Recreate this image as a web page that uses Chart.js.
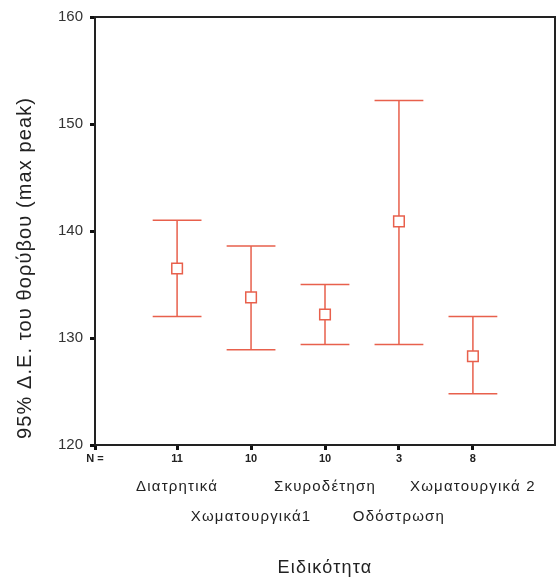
<!DOCTYPE html>
<html>
<head>
<meta charset="utf-8">
<script src="https://cdn.jsdelivr.net/npm/chart.js@4.4.1/dist/chart.umd.min.js"></script>
<style>
html,body{margin:0;padding:0;background:#fff;}
#wrap{width:556px;height:582px;position:relative;}
</style>
</head>
<body>
<div id="wrap"><canvas id="c" width="556" height="582"></canvas></div>
<script>
const categories = ['Διατρητικά', 'Χωματουργικά1', 'Σκυροδέτηση', 'Οδόστρωση', 'Χωματουργικά 2'];
const counts = [11, 10, 10, 3, 8];
const means = [136.5, 133.8, 132.2, 140.9, 128.3];
const lower = [132.0, 128.9, 129.4, 129.4, 124.8];
const upper = [141.0, 138.6, 135.0, 152.2, 132.0];
const yTicks = [120, 130, 140, 150, 160];

const FONT = "'Liberation Sans', Arial, sans-serif";
const RED = '#e8604c';
const XMIN = -1.11, XMAX = 5.11;

const errorBars = {
  id: 'errorBars',
  beforeDatasetsDraw(chart) {
    const ctx = chart.ctx, xs = chart.scales.x, ys = chart.scales.y;
    ctx.save();
    ctx.strokeStyle = RED;
    ctx.lineWidth = 1.5;
    for (let i = 0; i < categories.length; i++) {
      const x = xs.getPixelForValue(i);
      const yl = ys.getPixelForValue(lower[i]);
      const yh = ys.getPixelForValue(upper[i]);
      const half = (xs.getPixelForValue(1) - xs.getPixelForValue(0)) * 0.33;
      ctx.beginPath();
      ctx.moveTo(x, yl); ctx.lineTo(x, yh);
      ctx.moveTo(x - half, yl); ctx.lineTo(x + half, yl);
      ctx.moveTo(x - half, yh); ctx.lineTo(x + half, yh);
      ctx.stroke();
    }
    ctx.restore();
  },
  afterDatasetsDraw(chart) {
    // x2 (category names + title) is drawn after datasets (z: 1); give it wider letter spacing
    chart.ctx.letterSpacing = '1.2px';
  },
  afterDraw(chart) {
    const ctx = chart.ctx, a = chart.chartArea;
    ctx.letterSpacing = '0px';
    ctx.save();
    ctx.strokeStyle = '#222';
    ctx.lineWidth = 2;
    ctx.beginPath();
    ctx.moveTo(a.left, a.top); ctx.lineTo(a.right, a.top); ctx.lineTo(a.right, a.bottom);
    ctx.stroke();
    // y axis title
    ctx.translate(25, 268);
    ctx.rotate(-Math.PI / 2);
    ctx.fillStyle = '#222';
    ctx.font = '20px ' + FONT;
    ctx.letterSpacing = '1.1px';
    ctx.textAlign = 'center';
    ctx.textBaseline = 'middle';
    ctx.fillText('95% Δ.Ε. του θορύβου (max peak)', 0, 0);
    ctx.restore();
    ctx.letterSpacing = '0px';
  }
};

new Chart(document.getElementById('c'), {
  type: 'scatter',
  data: {
    datasets: [{
      data: means.map((m, i) => ({x: i, y: m})),
      pointStyle: 'rect',
      pointRadius: 7.5,
      pointHoverRadius: 7.5,
      borderColor: RED,
      borderWidth: 1.5,
      backgroundColor: '#fff',
      showLine: false
    }]
  },
  options: {
    responsive: false,
    animation: false,
    events: [],
    layout: {autoPadding: false, padding: {top: 17, right: 1, bottom: 0, left: 0}},
    plugins: {legend: {display: false}, tooltip: {enabled: false}},
    scales: {
      y: {
        type: 'linear', position: 'left', min: 120, max: 160,
        afterBuildTicks: s => { s.ticks = yTicks.map(v => ({value: v})); },
        afterFit: s => { s.width = 95; },
        grid: {drawOnChartArea: false, drawTicks: true, tickLength: 5, tickWidth: 3, color: '#111'},
        border: {display: true, color: '#222', width: 2},
        ticks: {padding: 7, color: '#333', font: {family: FONT, size: 15}}
      },
      x: {
        type: 'linear', position: 'bottom', min: XMIN, max: XMAX,
        afterBuildTicks: s => { s.ticks = [XMIN, 0, 1, 2, 3, 4].map(v => ({value: v})); },
        afterFit: s => { s.height = 26; s.paddingLeft = 0; s.paddingRight = 0; },
        grid: {drawOnChartArea: false, drawTicks: true, tickLength: 5, tickWidth: 3, color: '#111'},
        border: {display: true, color: '#222', width: 2},
        ticks: {
          padding: 2, color: '#222', maxRotation: 0, autoSkip: false,
          font: {family: FONT, size: 11, weight: 'bold'},
          callback: v => (v < -1 ? 'N =' : String(counts[Math.round(v)]))
        }
      },
      x2: {
        type: 'linear', position: 'bottom', min: XMIN, max: XMAX,
        afterBuildTicks: s => { s.ticks = [0, 1, 2, 3, 4].map(v => ({value: v})); },
        afterFit: s => { s.height = 111; s.paddingLeft = 0; s.paddingRight = 0; },
        grid: {display: false, drawTicks: false, z: 1},
        border: {display: false, z: 1},
        ticks: {
          z: 1,
          padding: 1, color: '#222', maxRotation: 0, autoSkip: false,
          font: {family: FONT, size: 15, lineHeight: '30px'},
          callback: v => { const i = Math.round(v); return i % 2 === 0 ? [categories[i]] : ['', categories[i]]; }
        },
        title: {
          display: true, text: 'Ειδικότητα', color: '#222',
          font: {family: FONT, size: 18}, padding: {top: 0, bottom: 3}
        }
      }
    }
  },
  plugins: [errorBars]
});
</script>
</body>
</html>
